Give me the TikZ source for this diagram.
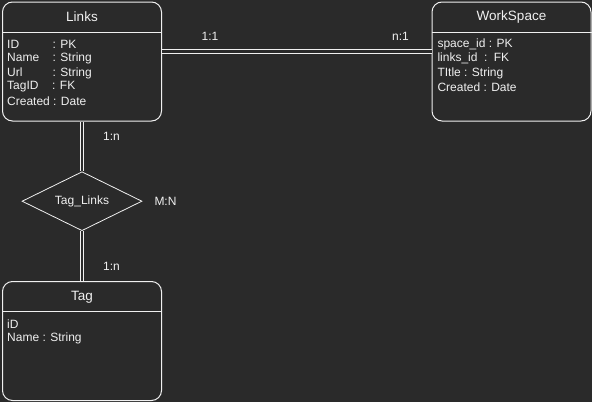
\documentclass[tikz,border=0pt]{standalone}
\usepackage{fontspec}
\setmainfont{Liberation Sans}
\usetikzlibrary{shapes.geometric}
\definecolor{bg}{HTML}{2A2A2A}
\definecolor{fg}{HTML}{F0F0F0}
\begin{document}
\begin{tikzpicture}[x=1pt,y=-1pt,
  entity/.style={draw=fg, line width=1pt, rounded corners=10pt, minimum width=159pt, minimum height=119pt, inner sep=0pt},
  sep/.style={draw=fg, line width=1pt},
  ttl/.style={text=fg, font=\fontsize{13.5}{16}\selectfont, inner sep=0pt},
  attr/.style={text=fg, font=\fontsize{12}{14}\selectfont, anchor=west, inner sep=0pt},
  lbl/.style={text=fg, font=\fontsize{12}{14}\selectfont, inner sep=0pt},
  rel/.style={draw=fg, shape=diamond, aspect=2, line width=0.8pt, minimum width=120pt, minimum height=59pt, inner sep=0pt, text=fg, font=\fontsize{12}{14}\selectfont},
  dblh/.style={draw=fg, double=bg, double distance=3pt, line width=0.9pt},
  dblv/.style={draw=fg, double=bg, double distance=2pt, line width=0.9pt}]
\fill[bg] (0,0) rectangle (592,402);
\useasboundingbox (0,0) rectangle (592,402);

% entities
\node[entity] (links) at (82,61.5) {};
\node[entity] (ws) at (511.5,61.5) {};
\node[entity] (tag) at (82,341) {};
\node[rel] (tl) at (82,201.2) {Tag\_Links};

% separators
\draw[sep] (links.west |- 0,32) -- (links.east |- 0,32);
\draw[sep] (ws.west |- 0,32) -- (ws.east |- 0,32);
\draw[sep] (tag.west |- 0,311.5) -- (tag.east |- 0,311.5);

% titles
\node[ttl] (linksT) at (82,17) {Links};
\node[ttl] (wsT) at (511.5,17) {WorkSpace};
\node[ttl] (tagT) at (82,297.5) {Tag};

% Links attributes
\node[attr] (la1) at (7,44) {\makebox[45.5pt][l]{ID}: PK};
\node[attr] (la2) at (7,58.5) {\makebox[45.5pt][l]{Name}: String};
\node[attr] (la3) at (7,73) {\makebox[45.5pt][l]{Url}: String};
\node[attr] (la4) at (7,87) {\makebox[45pt][l]{TagID}: FK};
\node[attr] (la5) at (7,101) {Created : Date};

% WorkSpace attributes
\node[attr] (wa1) at (437.3,44) {space\_id : PK};
\node[attr] (wa2) at (437.3,58.5) {links\_id\hspace{6.5pt}:\hspace{6.5pt}FK};
\node[attr] (wa3) at (437.3,73) {TItle : String};
\node[attr] (wa4) at (437.3,87) {Created : Date};

% Tag attributes
\node[attr] (ta1) at (7,324.5) {iD};
\node[attr] (ta2) at (7,338.5) {Name : String};

% connectors
\draw[dblh] (links.east |- 0,51.5) -- (ws.west |- 0,51.5);
\draw[dblv] (links.south) -- (tl.north);
\draw[dblv] (tl.south) -- (tag.north);

% labels
\node[lbl] (l11) at (210,36) {1:1};
\node[lbl] (ln1) at (400.5,36) {n:1};
\node[lbl] (l1n) at (111.5,136) {1:n};
\node[lbl] (l1nb) at (111.5,266) {1:n};
\node[lbl] (lmn) at (165.5,201) {M:N};
\end{tikzpicture}
\end{document}
